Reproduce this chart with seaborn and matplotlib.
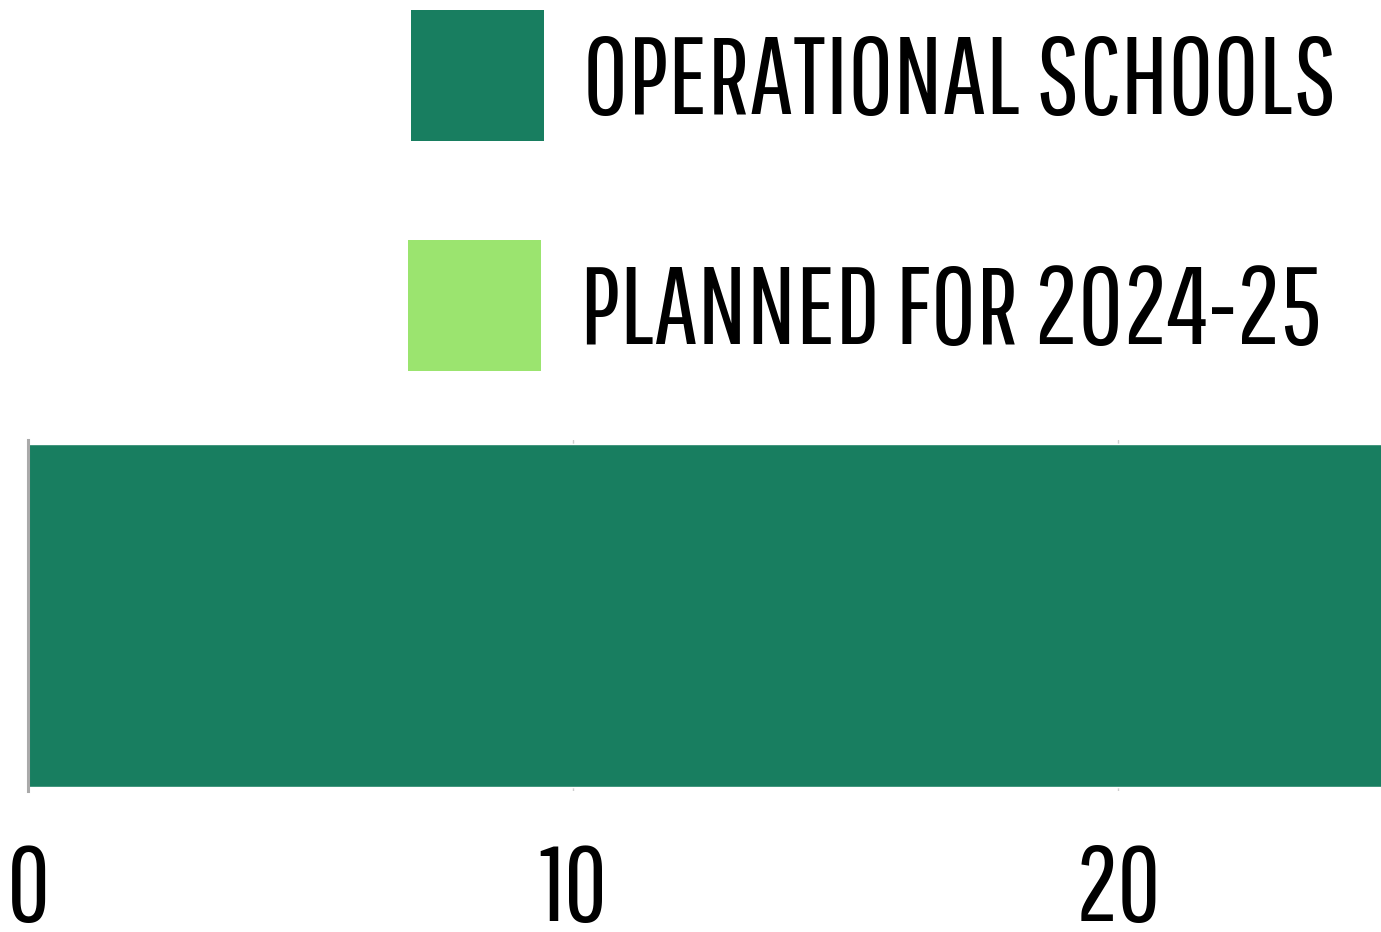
import matplotlib
matplotlib.use('Agg')
import matplotlib.pyplot as plt
from matplotlib.patches import Rectangle
import seaborn as sns
import pandas as pd

# data (bar runs off the right edge of the crop, values estimated)
categories = ['Schools']
operational = [30]
planned = [4]
legend_labels = ['OPERATIONAL SCHOOLS', 'PLANNED FOR 2024-25']
tick_values = [0, 10, 20]

dark_green = '#187E60'
light_green = '#9BE46F'

sns.set_theme(style='white')
plt.rcParams['font.family'] = ['Pathway Gothic One', 'Bebas Neue', 'DejaVu Sans']

df = pd.DataFrame({'category': categories,
                   'operational': operational,
                   'total': [o + p for o, p in zip(operational, planned)]})

W, H = 1381, 932
fig = plt.figure(figsize=(W / 100, H / 100), dpi=100)
ax = fig.add_axes([28 / W, 1 - 791 / H, 1 - 28 / W, (791 - 440) / H])

# stacked: total in light green underneath, operational on top
sns.barplot(data=df, x='total', y='category', orient='h', color=light_green,
            width=0.98, saturation=1, ax=ax, zorder=2)
sns.barplot(data=df, x='operational', y='category', orient='h', color=dark_green,
            width=0.98, saturation=1, ax=ax, zorder=3)

ax.set_xlim(0, (W - 28) / 54.5)
ax.set_ylim(0.5, -0.5)
ax.set_xticks(tick_values)
ax.set_xticklabels([str(v) for v in tick_values])
ax.set_yticks([])
ax.set_xlabel('')
ax.set_ylabel('')
ax.tick_params(axis='x', length=0, pad=37, labelsize=76, labelcolor='black')
ax.grid(axis='x', color='#cfcfcf', linewidth=1, zorder=0)
for side in ['top', 'right', 'bottom']:
    ax.spines[side].set_visible(False)
ax.spines['left'].set_color('#aaaaaa')
ax.spines['left'].set_linewidth(2.2)
ax.spines['left'].set_zorder(4)

# legend drawn as squares + labels at the top
legend_colors = [dark_green, light_green]
sq_left = [411, 408]
sq_top = [10, 240]
for lab, col, x0, y0 in zip(legend_labels, legend_colors, sq_left, sq_top):
    fig.patches.append(Rectangle((x0 / W, 1 - (y0 + 131) / H), 133 / W, 131 / H,
                                 transform=fig.transFigure, facecolor=col,
                                 edgecolor='none'))
    fig.text((x0 + 172) / W, 1 - (y0 + 73) / H, lab, fontsize=79,
             va='center', ha='left', color='black')

fig.savefig('out.png', dpi=100)
